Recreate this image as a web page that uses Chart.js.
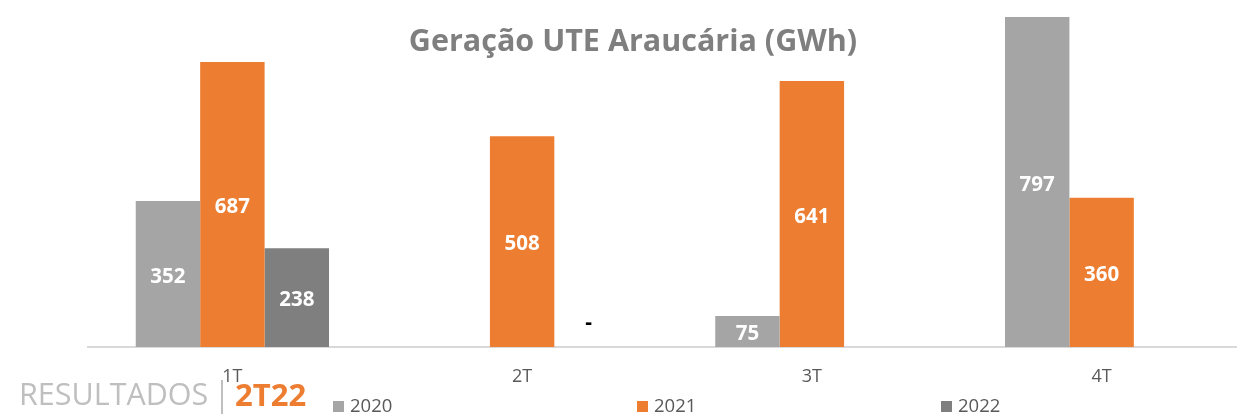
<!DOCTYPE html>
<html>
<head>
<meta charset="utf-8">
<script src="https://cdn.jsdelivr.net/npm/chart.js@4"></script>
<style>
  html, body { margin: 0; padding: 0; background: #fff; overflow: hidden; }
  #wrap { width: 1237px; height: 414px; overflow: hidden; }
</style>
</head>
<body>
<div id="wrap"><canvas id="myChart" width="1250" height="414"></canvas></div>
<script>
// quarters and yearly generation (GWh)
var quarters = ['1T', '2T', '3T', '4T'];
var years = ['2020', '2021', '2022'];
var gen2020 = [352, null, 75, 797];
var gen2021 = [687, 508, 641, 360];
var gen2022 = [238, 0, null, null];
var colors = ['#a5a5a5', '#ed7d31', '#7f7f7f'];

var titleText = 'Geração UTE Araucária (GWh)';

// labels in the middle of each bar, "-" for zero
var barLabels = {
  id: 'barLabels',
  afterDatasetsDraw: function(chart) {
    var ctx = chart.ctx;
    ctx.save();
    ctx.textAlign = 'center';
    ctx.textBaseline = 'middle';
    chart.data.datasets.forEach(function(ds, i) {
      chart.getDatasetMeta(i).data.forEach(function(bar, j) {
        var v = ds.data[j];
        if (v === null || v === undefined) return;
        if (v === 0) {
          ctx.font = 'bold 21px "Open Sans"';
          ctx.fillStyle = '#000';
          ctx.fillText('-', bar.x + 2, bar.y - 24);
          return;
        }
        ctx.font = 'bold 20.5px "Open Sans"';
        ctx.fillStyle = '#ffffff';
        var top = Math.max(bar.y, chart.chartArea.top);
        ctx.fillText(v, bar.x, (top + bar.base) / 2 + 3);
      });
    });
    ctx.restore();
  }
};

// title, legend and slide footer
var extras = {
  id: 'extras',
  afterDraw: function(chart) {
    var ctx = chart.ctx;
    ctx.save();
    ctx.textBaseline = 'middle';
    ctx.textAlign = 'center';
    ctx.font = 'bold 30.5px "Open Sans"';
    ctx.fillStyle = '#7f7f7f';
    ctx.fillText(titleText, 633, 42);

    var legX = [333, 637, 941];
    ctx.textAlign = 'left';
    ctx.font = '18.5px "Open Sans"';
    years.forEach(function(y, i) {
      ctx.fillStyle = colors[i];
      ctx.fillRect(legX[i], 401, 11, 11);
      ctx.fillStyle = '#595959';
      ctx.fillText(y, legX[i] + 17, 407);
    });

    ctx.textBaseline = 'alphabetic';
    ctx.font = '30.5px "Open Sans"';
    ctx.fillStyle = '#bfbfbf';
    ctx.fillText('RESULTADOS', 19, 405);
    ctx.fillRect(221, 380, 2, 34);
    ctx.font = 'bold 31px "Open Sans"';
    ctx.fillStyle = '#ed7d31';
    ctx.fillText('2T22', 235, 406);
    ctx.restore();
  }
};

var ctx = document.getElementById('myChart');

new Chart(ctx, {
  type: 'bar',
  data: {
    labels: quarters,
    datasets: [
      { label: years[0], data: gen2020, backgroundColor: colors[0], borderWidth: 0 },
      { label: years[1], data: gen2021, backgroundColor: colors[1], borderWidth: 0 },
      { label: years[2], data: gen2022, backgroundColor: colors[2], borderWidth: 0 }
    ]
  },
  options: {
    responsive: false,
    animation: false,
    layout: { padding: { left: 87.5, right: 3.5, top: 17, bottom: 0 } },
    datasets: { bar: { categoryPercentage: 0.667, barPercentage: 1 } },
    plugins: {
      legend: { display: false },
      title: { display: false },
      tooltip: { enabled: false }
    },
    scales: {
      x: {
        grid: { display: false, drawTicks: false },
        border: { display: true, color: '#d9d9d9', width: 2 },
        ticks: { color: '#595959', font: { family: 'Open Sans', size: 18 }, padding: 19 },
        afterFit: function(s) { s.height = 67; }
      },
      y: {
        display: false,
        min: 0,
        max: 795.5
      }
    }
  },
  plugins: [barLabels, extras]
});
</script>
</body>
</html>
